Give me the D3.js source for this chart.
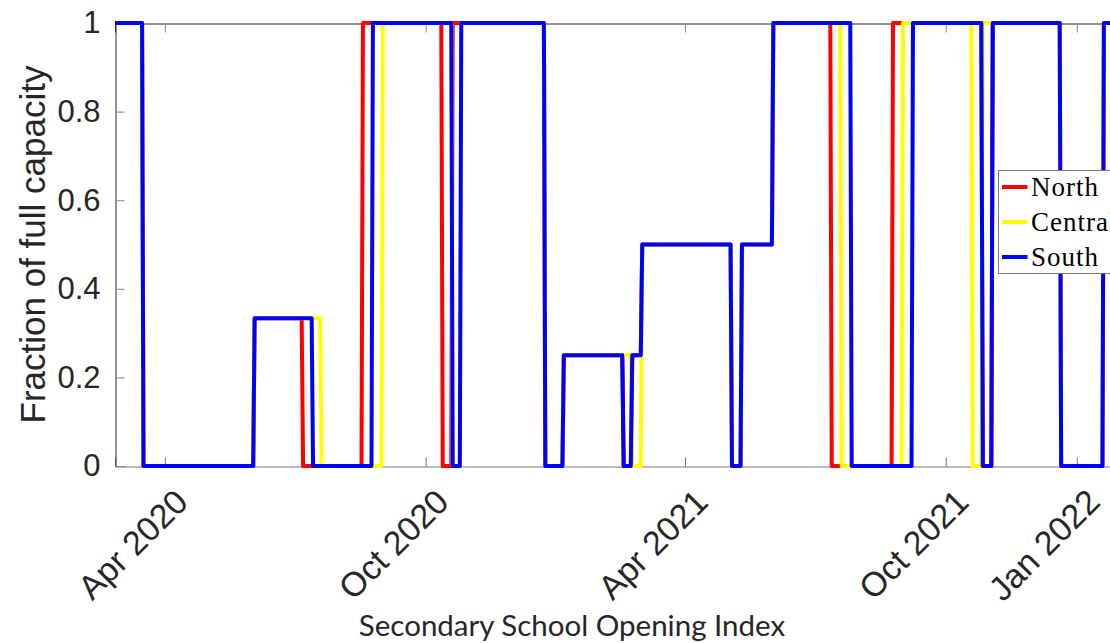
<!DOCTYPE html>
<html lang="en">
    <head>
        <meta charset="utf-8">
        <title>Secondary School Opening Index</title>
        <script src="https://d3js.org/d3.v7.min.js"></script>
        <style>
            body { margin: 0; background: #fff; overflow: hidden; }
        </style>
    </head>

    <body>
        <div id="vis"></div>

        <script>

            // series: first day of each new level, and the level
            const northDates = ['2020-02-26','2020-03-17','2020-06-03','2020-07-07','2020-08-18','2020-10-13','2020-10-20',
                                '2020-12-24','2021-01-06','2021-02-17','2021-02-23','2021-03-02','2021-05-04','2021-05-11',
                                '2021-06-02','2021-07-13','2021-08-25','2021-10-27','2021-11-03','2021-12-21','2022-01-20'];
            const northValues = [1, 0, 1/3, 0, 1, 0, 1, 0, 0.25, 0, 0.25, 0.5, 0, 0.5, 1, 0, 1, 0, 1, 0, 1];

            const centralDates = ['2020-02-26','2020-03-17','2020-06-03','2020-07-20','2020-09-01','2020-10-20','2020-10-26',
                                  '2020-12-24','2021-01-06','2021-02-23','2021-03-02','2021-05-04','2021-05-11',
                                  '2021-06-02','2021-07-20','2021-09-01','2021-10-20','2021-10-27','2021-12-21','2022-01-20'];
            const centralValues = [1, 0, 1/3, 0, 1, 0, 1, 0, 0.25, 0, 0.5, 0, 0.5, 1, 0, 1, 0, 1, 0, 1];

            const southDates = ['2020-02-26','2020-03-17','2020-06-03','2020-07-14','2020-08-25','2020-10-20','2020-10-26',
                                '2020-12-24','2021-01-06','2021-02-17','2021-02-23','2021-03-02','2021-05-04','2021-05-11',
                                '2021-06-02','2021-07-27','2021-09-08','2021-10-27','2021-11-03','2021-12-21','2022-01-20'];
            const southValues = [1, 0, 1/3, 0, 1, 0, 1, 0, 0.25, 0, 0.25, 0.5, 0, 0.5, 1, 0, 1, 0, 1, 0, 1];

            const seriesNames = ['North', 'Central', 'South'];

            const xTickDates = ['2020-04-01', '2020-10-01', '2021-04-01', '2021-10-01', '2022-01-01'];
            const xTickLabels = ['Apr 2020', 'Oct 2020', 'Apr 2021', 'Oct 2021', 'Jan 2022'];
            const yTicks = [0, 0.2, 0.4, 0.6, 0.8, 1];

            const domainStart = '2020-02-26';
            const domainEnd = '2022-02-01';

            const colors = {North: '#ff0000', Central: '#ffff00', South: '#0000ff'};

            const width = 1110;
            const height = 643;
            const plotLeft = 115, plotRight = 1121, plotTop = 23, plotBottom = 466;

            const parse = d3.utcParse('%Y-%m-%d');

            const svg = d3.select('#vis')
                    .append('svg')
                    .attr('width', width)
                    .attr('height', height);

            const xScale = d3.scaleUtc()
                            .domain([parse(domainStart), parse(domainEnd)])
                            .range([plotLeft, plotRight]);

            const yScale = d3.scaleLinear()
                            .domain([0, 1])
                            .range([plotBottom, plotTop]);

            // turn change dates into a daily step line
            function stepPoints(dates, values){
                var pts = [];
                for (var i = 0; i < dates.length; i++){
                    var start = parse(dates[i]);
                    var last = i + 1 < dates.length ? d3.utcDay.offset(parse(dates[i + 1]), -1) : parse(domainEnd);
                    pts.push([start, values[i]]);
                    pts.push([last, values[i]]);
                }
                return pts;
            }

            const series = [
                {name: 'North', points: stepPoints(northDates, northValues)},
                {name: 'Central', points: stepPoints(centralDates, centralValues)},
                {name: 'South', points: stepPoints(southDates, southValues)}
            ];

            const tickFont = '"Liberation Sans", Arial, sans-serif';

            //axes box
            const xTicks = xTickDates.map(parse);

            svg.append('g')
                .attr('transform', `translate(0, ${plotBottom + 0.5})`)
                .call(d3.axisBottom(xScale).tickValues(xTicks).tickSize(-9).tickFormat(''))
                .call(g => g.selectAll('path, line').attr('stroke', '#777'));

            svg.append('g')
                .attr('transform', `translate(0, ${plotTop + 0.5})`)
                .call(d3.axisTop(xScale).tickValues(xTicks).tickSize(-9).tickFormat(''))
                .call(g => g.select('path').attr('stroke', '#262626'))
                .call(g => g.selectAll('line').attr('stroke', '#888'));

            svg.append('g')
                .attr('transform', `translate(${plotLeft + 0.5}, 0)`)
                .call(d3.axisLeft(yScale).tickValues(yTicks).tickSize(-9).tickPadding(15).tickFormat(d => String(d)))
                .call(g => g.select('path').attr('stroke', '#262626'))
                .call(g => g.selectAll('line').attr('stroke', '#888'))
                .call(g => g.selectAll('text')
                    .attr('fill', '#262626')
                    .style('font-family', tickFont)
                    .style('font-size', '31px'));

            //x tick labels rotated
            svg.append('g')
                .selectAll('text')
                .data(xTicks)
                .enter()
                .append('text')
                .attr('transform', (d) => `translate(${xScale(d) + 25}, ${plotBottom + 38}) rotate(-45)`)
                .attr('text-anchor', 'end')
                .attr('fill', '#262626')
                .style('font-family', tickFont)
                .style('font-size', '34px')
                .text((d, i) => xTickLabels[i]);

            //lines
            const line = d3.line()
                .x(d => xScale(d[0]))
                .y(d => yScale(d[1]));

            svg.append('g')
                .selectAll('path')
                .data(series)
                .enter()
                .append('path')
                .attr('d', d => line(d.points))
                .attr('fill', 'none')
                .attr('stroke', d => colors[d.name])
                .attr('stroke-width', 4)
                .attr('stroke-linejoin', 'round');

            //axis labels
            svg.append('text')
                .attr('transform', `translate(45, ${(plotTop + plotBottom) / 2}) rotate(-90)`)
                .attr('text-anchor', 'middle')
                .attr('fill', '#262626')
                .style('font-family', tickFont)
                .style('font-size', '35px')
                .text('Fraction of full capacity');

            const xLabel = svg.append('text')
                .attr('x', 572)
                .attr('y', 636)
                .attr('text-anchor', 'middle')
                .attr('fill', '#262626')
                .style('font-family', 'Lato, sans-serif')
                .style('font-size', '29.5px')
                .text('Secondary School Opening Index');

            //legend
            const legend = svg.append('g')
                .attr('transform', 'translate(998.5, 170.5)');

            legend.append('rect')
                .attr('width', 160)
                .attr('height', 103)
                .attr('fill', '#fff')
                .attr('stroke', '#777');

            const items = legend.selectAll('g')
                .data(seriesNames)
                .enter()
                .append('g')
                .attr('transform', (d, i) => `translate(0, ${16.5 + i * 35})`);

            items.append('line')
                .attr('x1', 3.5)
                .attr('x2', 29)
                .attr('stroke', d => colors[d])
                .attr('stroke-width', 4);

            items.append('text')
                .attr('x', 32.5)
                .attr('dy', '0.33em')
                .attr('fill', '#000')
                .style('font-family', '"Liberation Serif", serif')
                .style('font-size', '27px')
                .style('letter-spacing', '1px')
                .text(d => d);

        </script>
    </body>
</html>
